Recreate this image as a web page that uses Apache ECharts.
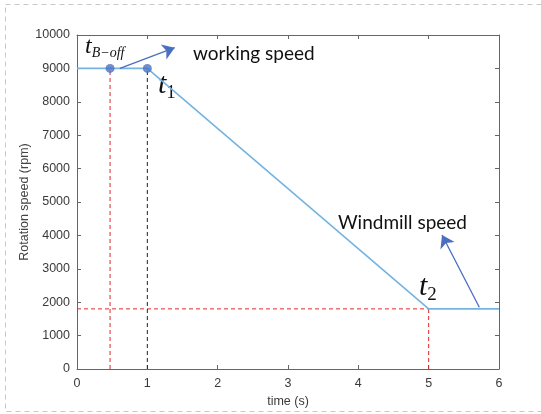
<!DOCTYPE html>
<html><head><meta charset="utf-8">
<script src="https://cdn.jsdelivr.net/npm/echarts@6/dist/echarts.min.js"></script>
<style>html,body{margin:0;padding:0;background:#fff}#c{width:541px;height:414px}</style>
</head><body><div id="c"></div>
<script>
var timeS = [0, 1, 5, 6];
var speedRpm = [9000, 9000, 1800, 1800];
var markTimes = [0.47, 1];
var markSpeeds = [9000, 9000];
var tBoff = 0.47, t1 = 1, t2 = 5, windmill = 1800, working = 9000;
var arrowWorking = [[0.61, 9000], [1.39, 9620]];
var arrowWindmill = [[5.72, 1850], [5.19, 4010]];

var lineData = timeS.map(function (t, i) { return [t, speedRpm[i]]; });
var dotData = markTimes.map(function (t, i) { return [t, markSpeeds[i]]; });
var axisCol = '#666';
var lbl = { color: '#3a3a3a', fontSize: 12.5, fontFamily: 'Liberation Sans, Arial' };
function dashed(pts, col) {
  return { type: 'line', data: pts, showSymbol: false, silent: true, z: 2,
    lineStyle: { color: col, width: 1, type: [4, 3] } };
}
function axisCommon(extra) {
  return Object.assign({
    axisLine: { show: true, onZero: false, lineStyle: { color: axisCol, width: 1 } },
    axisTick: { show: true, inside: true, length: 4, lineStyle: { color: axisCol } },
    splitLine: { show: false }
  }, extra);
}
var chart = echarts.init(document.getElementById('c'));
chart.setOption({
  animation: false,
  grid: { left: 77, right: 42, top: 35, bottom: 45 },
  xAxis: [axisCommon({
    type: 'value', min: 0, max: 6, interval: 1, position: 'bottom',
    name: 'time (s)', nameLocation: 'middle', nameGap: 22,
    nameTextStyle: { color: '#3a3a3a', fontSize: 12.5, fontFamily: 'Liberation Sans, Arial' },
    axisLabel: Object.assign({ margin: 8 }, lbl)
  }), axisCommon({
    type: 'value', min: 0, max: 6, interval: 1, position: 'top',
    axisLabel: { show: false }
  })],
  yAxis: [axisCommon({
    type: 'value', min: 0, max: 10000, interval: 1000, position: 'left',
    name: 'Rotation speed (rpm)', nameLocation: 'middle', nameGap: 46, nameMoveOverlap: false,
    nameTextStyle: { color: '#444', fontSize: 12.5, fontFamily: 'Liberation Sans, Arial' },
    axisLabel: Object.assign({ margin: 7, formatter: function (v) { return String(v); } }, lbl)
  }), axisCommon({
    type: 'value', min: 0, max: 10000, interval: 1000, position: 'right',
    axisLabel: { show: false }
  })],
  series: [
    dashed([[tBoff, 0], [tBoff, working]], '#e02828'),
    dashed([[t2, 0], [t2, windmill]], '#e02828'),
    dashed([[0, windmill], [t2, windmill]], '#e02828'),
    dashed([[t1, 0], [t1, working]], '#222'),
    {
      type: 'line', data: lineData, showSymbol: false, silent: true,
      lineStyle: { color: '#74b4e2', width: 1.6 }, z: 3
    }, {
      type: 'scatter', data: dotData, symbolSize: 9, silent: true,
      itemStyle: { color: '#4a72c0' }, z: 5
    }, {
      type: 'line', data: lineData, showSymbol: false, lineStyle: { opacity: 0 }, z: 6, silent: true,
      markLine: {
        silent: true, symbol: ['none', 'arrow'], symbolSize: 12,
        label: { show: false },
        lineStyle: { color: '#4a6fc0', width: 1.3, type: 'solid' },
        data: [
          [{ coord: arrowWorking[0] }, { coord: arrowWorking[1] }],
          [{ coord: arrowWindmill[0] }, { coord: arrowWindmill[1] }]
        ]
      }
    }
  ],
  graphic: [
    { type: 'rect', shape: { x: 5.5, y: 4.5, width: 560, height: 407 }, style: { fill: 'none', stroke: '#c8c8c8', lineWidth: 1, lineDash: [5, 4] }, silent: true },
    { type: 'text', left: 85, top: 35, style: {
      rich: {
        t: { fontFamily: 'Liberation Serif', fontStyle: 'italic', fontSize: 24, fill: '#111' },
        s: { fontFamily: 'Liberation Serif', fontStyle: 'italic', fontSize: 14, fill: '#111', padding: [12, 0, 0, 0] }
      }, text: '{t|t}{s|B\u2212off}'
    } },
    { type: 'text', left: 193, top: 44, style: { text: 'working speed', fontFamily: 'Lato', fontSize: 19, fill: '#111' } },
    { type: 'text', left: 158, top: 70, style: {
      rich: {
        t: { fontFamily: 'Liberation Serif', fontStyle: 'italic', fontSize: 30, fill: '#111' },
        s: { fontFamily: 'Liberation Serif', fontSize: 19, fill: '#111', padding: [16, 0, 0, 0] }
      }, text: '{t|t}{s|1}'
    } },
    { type: 'text', left: 338, top: 213, style: { text: 'Windmill speed', fontFamily: 'Lato', fontSize: 19, fill: '#111' } },
    { type: 'text', left: 419, top: 272, style: {
      rich: {
        t: { fontFamily: 'Liberation Serif', fontStyle: 'italic', fontSize: 30, fill: '#111' },
        s: { fontFamily: 'Liberation Serif', fontSize: 19, fill: '#111', padding: [16, 0, 0, 0] }
      }, text: '{t|t}{s|2}'
    } }
  ]
});
</script></body></html>
